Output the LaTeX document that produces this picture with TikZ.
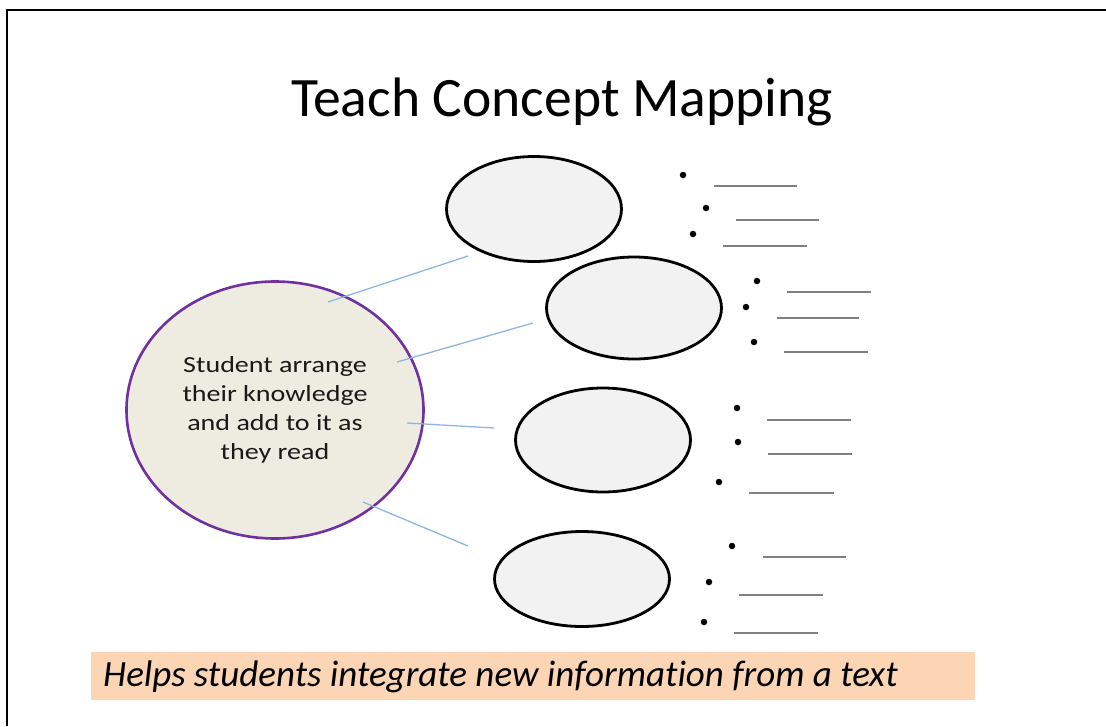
\documentclass[tikz,border=0pt]{standalone}
\usepackage{fontspec}
\setmainfont[Ligatures={NoCommon}]{Carlito}
\newfontfamily\hubfont[FakeStretch=1.22, Ligatures={NoCommon}]{Carlito}
\usetikzlibrary{shapes.geometric}
\definecolor{hubfill}{HTML}{EEECE1}
\definecolor{hubline}{HTML}{7030A0}
\definecolor{leaffill}{HTML}{F2F2F2}
\definecolor{linkblue}{HTML}{8EB4E3}
\definecolor{rulegray}{HTML}{808080}
\definecolor{bannerfill}{HTML}{FCD5B4}
\begin{document}
\begin{tikzpicture}[x=1pt,y=-1pt,
  hub/.style={ellipse, draw=hubline, line width=2.6pt, fill=hubfill,
    minimum width=297pt, minimum height=257pt, inner sep=0pt, align=center,
    font=\hubfont\fontsize{23}{29}\selectfont, text=black!90},
  leaf/.style={ellipse, draw=black, line width=2.8pt, fill=leaffill,
    minimum width=175pt, inner sep=0pt},
  link/.style={draw=linkblue, line width=1.3pt},
  dot/.style={circle, fill=black, minimum size=6.5pt, inner sep=0pt},
  blank/.style={draw=rulegray, line width=1.5pt}]
\useasboundingbox (0,0) rectangle (1106,726);

% slide frame
\draw[line width=2pt] (7,726) -- (7,10) -- (1106,10);

% title
\node (title) at (562,102) {\fontsize{55.6}{60}\selectfont Teach Concept Mapping};

% central idea
\node[hub] (hub) at (275,410) {Student arrange\\their knowledge\\and add to it as\\they read};

% outer concepts
\node[leaf, minimum height=105pt] (e1) at (534,209) {};
\node[leaf, minimum height=102pt] (e2) at (634,308) {};
\node[leaf, minimum height=104pt] (e3) at (603,440) {};
\node[leaf, minimum height=95pt]  (e4) at (582,579) {};

% links from the central idea
\coordinate (a1) at (328,302); \coordinate (b1) at (468,256);
\coordinate (a2) at (397,362); \coordinate (b2) at (533,323);
\coordinate (a3) at (407,423); \coordinate (b3) at (494,428);
\coordinate (a4) at (363,502); \coordinate (b4) at (468,546);
\draw[link] (a1) -- (b1);
\draw[link] (a2) -- (b2);
\draw[link] (a3) -- (b3);
\draw[link] (a4) -- (b4);

% bullet points with blanks
\foreach \dx/\dy/\lx/\ly/\rx in {
  683/175/714/186/797, 706/208/736/220/819, 693/234/723/246/807,
  757/281/787/292/871, 746/307/777/318/859, 754/342/784/352/868,
  737/408/767/420/851, 738/442/768/454/852, 719/482/749/493/834,
  732/546/763/557/846, 709/582/739/595/823, 704/622/734/633/818}{
  \node[dot] at (\dx,\dy) {};
  \draw[blank] (\lx,\ly) -- (\rx,\ly);
}

% summary banner
\node[fill=bannerfill, anchor=north west, minimum width=884pt, minimum height=48pt] (banner) at (91,652) {};
\node[anchor=base west, inner sep=0pt, font=\fontsize{37}{40}\selectfont\itshape] (bannertext)
  at ([xshift=12pt,yshift=14pt]banner.south west)
  {Helps students integrate new information from a text};
\end{tikzpicture}
\end{document}
